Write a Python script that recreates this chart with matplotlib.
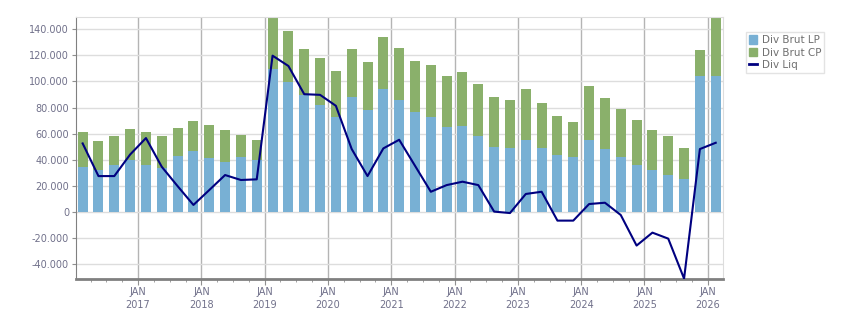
import numpy as np
import matplotlib
matplotlib.use('Agg')
import matplotlib.pyplot as plt
from matplotlib.patches import Patch
from matplotlib.lines import Line2D
from matplotlib.ticker import FuncFormatter, FixedLocator

# quarterly data, 2016Q1 .. 2026Q1 (thousands)
quarters = ['%dQ%d' % (y, q) for y in range(2016, 2027) for q in range(1, 5)][:41]
div_brut_lp = [34.1, 32.1, 35.7, 40.0, 35.7, 34.0, 42.8, 46.6, 41.3, 38.2,
               41.8, 40.0, 109.3, 99.9, 89.2, 81.8, 72.6, 87.9, 78.0, 93.8,
               86.1, 76.4, 72.6, 65.0, 66.0, 58.1, 49.4, 48.9, 55.0, 48.9,
               43.6, 41.8, 55.0, 48.2, 41.8, 35.7, 32.1, 28.0, 25.2, 103.9,
               103.9]
div_brut_cp = [27.0, 22.2, 22.4, 23.4, 25.4, 24.1, 21.4, 23.0, 25.2, 24.5,
               17.1, 15.0, 45.7, 38.4, 35.4, 35.9, 35.2, 36.7, 36.6, 40.0,
               39.3, 39.0, 39.8, 38.9, 41.0, 39.7, 38.5, 36.7, 39.0, 34.4,
               29.8, 27.0, 41.3, 38.9, 36.9, 34.6, 30.6, 30.1, 23.7, 19.9,
               49.0]
div_liq = [52.5, 27.5, 27.5, 44.0, 56.6, 34.6, 19.8, 5.4, 16.8, 28.3,
           24.5, 25.0, 119.7, 111.8, 90.2, 89.7, 81.3, 48.2, 27.5, 48.7,
           55.3, 35.4, 15.5, 20.6, 23.2, 20.6, 0.3, -0.8, 13.8, 15.5,
           -6.6, -6.6, 6.1, 7.1, -2.3, -25.7, -15.8, -20.4, -51.0, 48.2,
           53.0]
year_ticks = list(range(2017, 2027))

# x position = middle of the quarter, in decimal years
x = np.array([int(q[:4]) + (int(q[-1]) - 1) * 0.25 + 0.125 for q in quarters])
lp = np.array(div_brut_lp) * 1000
cp = np.array(div_brut_cp) * 1000
liq = np.array(div_liq) * 1000

blue = '#78b0d4'
green = '#8ab06b'
navy = '#000080'
txt = '#70708a'

fig = plt.figure(figsize=(8.51, 3.13), dpi=100)
ax = fig.add_axes([76 / 851, 1 - 279 / 313, (723 - 76) / 851, (279 - 17) / 313])
ax.set_axisbelow(True)

w = 0.158
ax.bar(x, lp, width=w, color=blue, zorder=2)
ax.bar(x, cp, width=w, bottom=lp, color=green, zorder=2)
ax.plot(x, liq, color=navy, lw=1.5, zorder=3)

ax.set_xlim(2016.02, 2026.24)
ax.set_ylim(-51300, 149300)

ax.set_yticks(np.arange(-40000, 140001, 20000))
ax.yaxis.set_major_formatter(FuncFormatter(lambda v, p: f'{v:,.0f}'.replace(',', '.')))
ax.xaxis.set_major_locator(FixedLocator(year_ticks))
ax.xaxis.set_minor_locator(FixedLocator(np.arange(2016.25, 2026.3, 0.25)))
ax.set_xticklabels(['JAN\n%d' % y for y in year_ticks])

ax.grid(axis='y', color='#dddddd', lw=1)
ax.grid(axis='x', which='major', color='#b4b4b4', lw=1)

ax.tick_params(axis='y', length=3, color='#909090', labelsize=7, labelcolor=txt, pad=2)
ax.tick_params(axis='x', which='major', length=4, color='#909090', labelsize=7,
               labelcolor=txt, pad=2)
ax.tick_params(axis='x', which='minor', length=2, color='#909090')
for lab in ax.get_xticklabels():
    lab.set_linespacing(1.3)

ax.spines['left'].set_color('#808080')
ax.spines['bottom'].set_color('#808080')
ax.spines['bottom'].set_linewidth(2)
ax.spines['top'].set_color('#dddddd')
ax.spines['right'].set_color('#dddddd')

handles = [Patch(color=blue, label='Div Brut LP'),
           Patch(color=green, label='Div Brut CP'),
           Line2D([], [], color=navy, lw=2, label='Div Liq')]
leg = fig.legend(handles=handles, loc='upper left', bbox_to_anchor=(746 / 851, 1 - 32 / 313),
                 fontsize=7.5, frameon=True, fancybox=False, handlelength=0.75,
                 handleheight=0.9, handletextpad=0.45, labelspacing=0.25,
                 borderpad=0.3, borderaxespad=0)
leg.get_frame().set_edgecolor('#dddddd')
leg.get_frame().set_linewidth(1)
for t in leg.get_texts():
    t.set_color('#707070')

fig.savefig('out.png', dpi=100)
